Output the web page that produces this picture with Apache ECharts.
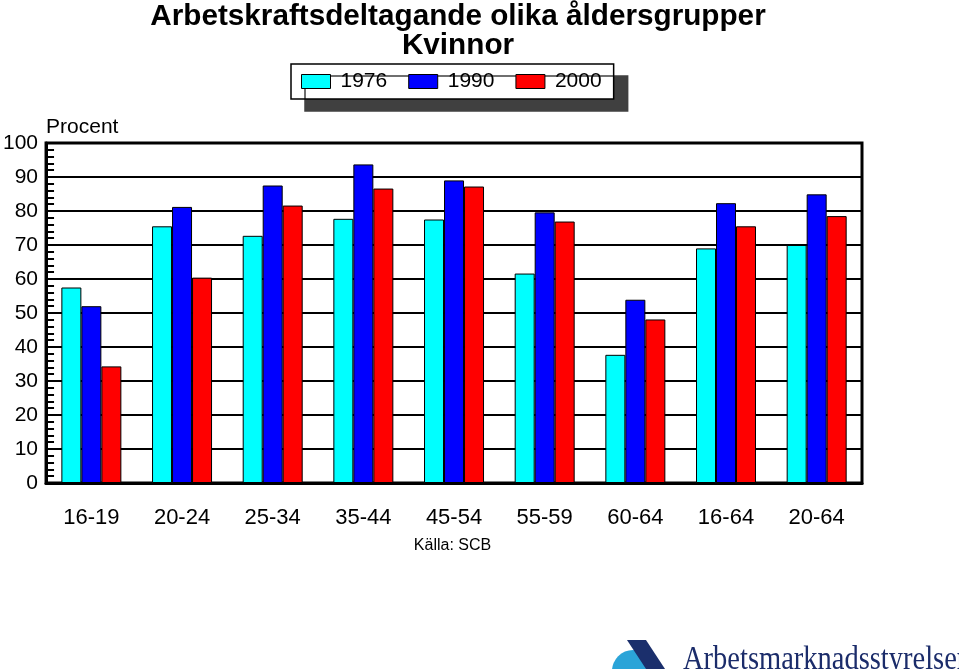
<!DOCTYPE html>
<html>
<head>
<meta charset="utf-8">
<script src="https://cdn.jsdelivr.net/npm/echarts@6/dist/echarts.min.js"></script>
<style>html,body{margin:0;padding:0;background:#fff;}#chart{width:959px;height:669px;}</style>
</head>
<body>
<div id="chart"></div>
<script>
var categories = ['16-19', '20-24', '25-34', '35-44', '45-54', '55-59', '60-64', '16-64', '20-64'];
var seriesNames = ['1976', '1990', '2000'];
var values1976 = [57.5, 75.5, 72.7, 77.7, 77.5, 61.6, 37.7, 69.0, 70.0];
var values1990 = [52.0, 81.2, 87.5, 93.7, 89.0, 79.6, 53.9, 82.3, 84.9];
var values2000 = [34.3, 60.4, 81.6, 86.6, 87.2, 76.9, 48.1, 75.5, 78.5];
var titleText = 'Arbetskraftsdeltagande olika åldersgrupper\nKvinnor';
var yAxisName = 'Procent';
var sourceText = 'Källa: SCB';
var logoText = 'Arbetsmarknadsstyrelsen';

var FONT = '"Liberation Sans", Arial, sans-serif';
var colors = ['#00ffff', '#0000ff', '#ff0000'];
var allValues = [values1976, values1990, values2000];

var chart = echarts.init(document.getElementById('chart'), null, {renderer: 'canvas'});

var series = seriesNames.map(function (name, i) {
  return {
    name: name,
    type: 'bar',
    data: allValues[i],
    barWidth: 20,
    barGap: '0%',
    itemStyle: {color: colors[i], borderColor: '#000', borderWidth: 1},
    emphasis: {disabled: true}
  };
});

chart.setOption({
  animation: false,
  backgroundColor: '#fff',
  title: {
    text: titleText,
    left: 458,
    top: 2,
    padding: 0,
    textAlign: 'center',
    textStyle: {fontFamily: FONT, fontSize: 29.7, fontWeight: 'bold', color: '#000', lineHeight: 29}
  },
  legend: {
    data: seriesNames,
    left: 291,
    top: 64,
    orient: 'horizontal',
    padding: [7, 12, 7, 10],
    itemGap: 21,
    itemWidth: 29,
    itemHeight: 14,
    icon: 'rect',
    backgroundColor: '#fff',
    borderColor: '#000',
    borderWidth: 1.5,
    borderRadius: 0,
    shadowColor: '#404040',
    shadowBlur: 0,
    shadowOffsetX: 14,
    shadowOffsetY: 12,
    itemStyle: {borderColor: '#000', borderWidth: 1},
    textStyle: {fontFamily: FONT, fontSize: 21, color: '#000', padding: [0, 0, 0, 5]},
    selectedMode: false
  },
  grid: {
    left: 46,
    right: 97,
    top: 143,
    bottom: 186,
    show: true,
    borderColor: '#000',
    borderWidth: 3,
    backgroundColor: '#fff',
    containLabel: false
  },
  xAxis: {
    type: 'category',
    data: categories,
    axisLine: {show: true, lineStyle: {color: '#000', width: 3}},
    axisTick: {show: false},
    axisLabel: {fontFamily: FONT, fontSize: 22, color: '#000', margin: 24},
    splitLine: {show: false}
  },
  yAxis: {
    type: 'value',
    min: 0,
    max: 100,
    interval: 10,
    name: yAxisName,
    nameLocation: 'end',
    nameGap: 5,
    nameTextStyle: {fontFamily: FONT, fontSize: 21, color: '#000', align: 'left', verticalAlign: 'bottom'},
    axisLine: {show: true, lineStyle: {color: '#000', width: 3}},
    axisTick: {show: true, inside: true, length: 8, lineStyle: {color: '#000', width: 2}},
    minorTick: {show: true, splitNumber: 5, length: 8, lineStyle: {color: '#000', width: 2}},
    axisLabel: {fontFamily: FONT, fontSize: 21, color: '#000', margin: 8},
    splitLine: {show: true, lineStyle: {color: '#000', width: 2}}
  },
  graphic: [
    {
      type: 'text',
      x: 452.5,
      y: 546,
      style: {text: sourceText, font: '16px "Liberation Sans", Arial, sans-serif', fill: '#000', textAlign: 'center', textVerticalAlign: 'middle'}
    },
    {
      type: 'circle',
      shape: {cx: 633, cy: 671, r: 21},
      style: {fill: '#2ba4d8'}
    },
    {
      type: 'polygon',
      shape: {points: [[627, 640], [646, 640], [665, 669], [646, 669]]},
      style: {fill: '#1b2f6c'}
    },
    {
      type: 'text',
      x: 683,
      y: 660,
      scaleY: 1.15,
      style: {text: logoText, font: '28.5px "Liberation Serif", "Times New Roman", serif', fill: '#1b2c6a', textAlign: 'left', textVerticalAlign: 'middle'}
    }
  ],
  series: series
});
</script>
</body>
</html>
